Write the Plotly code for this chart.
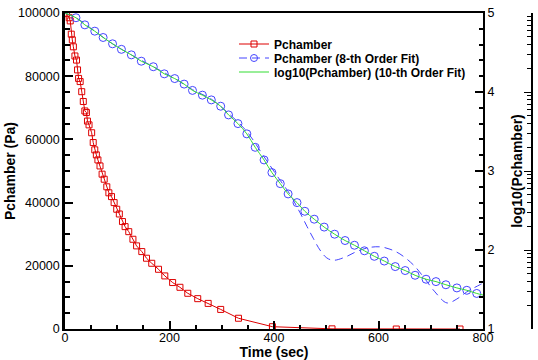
import plotly.graph_objects as go

# ---- data ----
p_time = [3, 8, 10, 12, 14, 16, 19, 22, 24, 26, 29, 32, 35, 38, 41, 43, 46, 51, 54, 57,
          60, 63, 67, 71, 75, 80, 84, 89, 94, 99, 104, 110, 115, 122, 130, 137, 147, 156,
          166, 179, 191, 206, 220, 235, 254, 274, 298, 332, 397, 511, 634, 756]
p_chamber = [99800, 98500, 97500, 93300, 91500, 89300, 86400, 85100, 82000, 79300, 78300,
             75100, 72000, 69000, 68500, 65800, 64600, 62100, 59000, 56700, 55100, 53500,
             51600, 49000, 47400, 45000, 43100, 41900, 40000, 37900, 36400, 34000, 32400,
             30800, 28400, 26300, 24500, 22400, 20800, 18900, 16800, 14700, 13200, 11300,
             9600, 8100, 6200, 3400, 730, 50, 0, 0]

circ_time = [21, 38, 57, 73, 91, 108, 127, 146, 169, 190, 210, 228, 244, 263, 280, 298,
             313, 331, 348, 364, 381, 396, 412, 427, 444, 459, 477, 496, 516, 536, 554,
             573, 592, 611, 632, 651, 670, 691, 710, 729, 750, 769, 788]
circ_log = [4.94, 4.85, 4.77, 4.69, 4.61, 4.54, 4.47, 4.39, 4.32, 4.23, 4.17, 4.10, 4.02,
            3.96, 3.90, 3.82, 3.71, 3.60, 3.47, 3.30, 3.14, 2.98, 2.84, 2.71, 2.60, 2.49,
            2.39, 2.29, 2.20, 2.12, 2.06, 1.99, 1.92, 1.86, 1.79, 1.74, 1.68, 1.63, 1.60,
            1.56, 1.52, 1.49, 1.45]

fit10_time = [0] + circ_time + [800]
fit10_log = [5.0] + circ_log + [1.43]

fit8_time = [0, 21, 57, 91, 127, 169, 210, 244, 280, 313, 348, 381, 412, 431, 450, 463,
             475, 488, 501, 514, 536, 558, 581, 603, 622, 641, 667, 686, 708, 731, 750,
             769, 794, 800]
fit8_log = [5.0, 4.94, 4.77, 4.61, 4.47, 4.32, 4.17, 4.03, 3.91, 3.73, 3.50, 3.18, 2.88,
            2.70, 2.47, 2.30, 2.15, 2.00, 1.90, 1.87, 1.91, 1.98, 2.03, 2.04, 2.01, 1.95,
            1.81, 1.66, 1.47, 1.33, 1.38, 1.47, 1.56, 1.58]

x_ticks = [0, 200, 400, 600, 800]
y_ticks = [0, 20000, 40000, 60000, 80000, 100000]
y2_ticks = [1, 2, 3, 4, 5]

RED = "#dd0000"
BLUE = "#4444ff"
GREEN = "#33dd33"
FONT = "Liberation Sans, Arial, sans-serif"

fig = go.Figure()
fig.add_trace(go.Scatter(x=p_time, y=p_chamber, mode="lines+markers", name="Pchamber",
                         legend="legend",
                         line=dict(color=RED, width=1),
                         marker=dict(symbol="square-open", size=6, color=RED, line=dict(width=1))))
fig.add_trace(go.Scatter(x=fit8_time, y=fit8_log, mode="lines", yaxis="y2", showlegend=False,
                         line=dict(color=BLUE, width=1, dash="8px,5px", shape="spline")))
fig.add_trace(go.Scatter(x=circ_time, y=circ_log, mode="markers", yaxis="y2", showlegend=False,
                         marker=dict(symbol="circle-open", size=8, color=BLUE, line=dict(width=1))))
fig.add_trace(go.Scatter(x=[None], y=[None], mode="lines+markers", yaxis="y2",
                         name="Pchamber (8-th Order Fit)", legend="legend2",
                         line=dict(color=BLUE, width=1, dash="8px,5px"),
                         marker=dict(symbol="circle-open", size=7, color=BLUE, line=dict(width=1))))
fig.add_trace(go.Scatter(x=fit10_time, y=fit10_log, mode="lines", yaxis="y2",
                         name="log10(Pchamber) (10-th Order Fit)", legend="legend3",
                         line=dict(color=GREEN, width=1, shape="spline")))
# empty trace so the outer (decade) axis is drawn
fig.add_trace(go.Scatter(x=[None], y=[None], yaxis="y3", showlegend=False, hoverinfo="skip"))

W, H = 538, 360
L, R, T, B = 65, 3, 13, 31
pw = W - L - R
ph = H - T - B
xdom_end = 418 / pw
y3_pos = (532 - L) / pw


def leg(row_y):
    return dict(x=(234 - L) / pw, y=1 - (row_y - T) / ph, xanchor="left", yanchor="middle",
                bgcolor="rgba(0,0,0,0)", borderwidth=0, itemwidth=30,
                font=dict(family=FONT, size=12, color="black", weight="bold"))


fig.update_layout(
    width=W, height=H,
    margin=dict(l=L, r=R, t=T, b=B, pad=0),
    paper_bgcolor="white", plot_bgcolor="white",
    font=dict(family=FONT, size=12, color="black"),
    showlegend=True,
    legend=leg(44), legend2=leg(58), legend3=leg(72),
    xaxis=dict(domain=[0, xdom_end], range=[0, 800], tickvals=x_ticks,
               showgrid=False, zeroline=False, showline=True, linecolor="black", linewidth=2,
               mirror=True, ticks="inside", ticklen=8, tickwidth=1.5, tickcolor="black",
               minor=dict(dtick=50, tick0=0, ticks="inside", ticklen=4, tickcolor="black",
                          showgrid=False),
               tickfont=dict(size=12.5), ticklabelstandoff=-4, ticklabeloverflow="allow",
               title=dict(text="<b>Time (sec)</b>", font=dict(size=14), standoff=0),
               automargin=False),
    yaxis=dict(range=[0, 100000], tickvals=y_ticks, tickformat="d", showgrid=False,
               zeroline=False, showline=True, linecolor="black", linewidth=2.5,
               ticks="inside", ticklen=8, tickwidth=1.5, tickcolor="black",
               minor=dict(dtick=5000, tick0=0, ticks="inside", ticklen=5, tickcolor="black",
                          showgrid=False),
               tickfont=dict(size=12.5), ticklabeloverflow="allow",
               title=dict(text="<b>Pchamber (Pa)</b>", font=dict(size=14), standoff=0),
               automargin=False),
    yaxis2=dict(range=[1, 5], tickvals=y2_ticks, overlaying="y", side="right", anchor="x",
                showgrid=False, zeroline=False, showline=True, linecolor="black", linewidth=2,
                ticks="inside", ticklen=8, tickwidth=1.5, tickcolor="black",
                minor=dict(dtick=0.2, tick0=1, ticks="inside", ticklen=4, tickcolor="black",
                           showgrid=False),
                tickfont=dict(size=12.5), ticklabeloverflow="allow",
                title=dict(text="<b>log10(Pchamber)</b>", font=dict(size=14), standoff=19),
                automargin=False),
    yaxis3=dict(type="log", range=[1, 5], overlaying="y", side="right", anchor="free",
                position=y3_pos, showgrid=False, zeroline=False, showline=True,
                linecolor="black", linewidth=2, ticks="inside", ticklen=7, tickwidth=1.2,
                tickcolor="black", dtick=1, showticklabels=False, automargin=False,
                minor=dict(ticks="inside", ticklen=4, dtick="D1", tickcolor="black",
                           tickwidth=1, showgrid=False)),
    shapes=[dict(type="line", xref="paper", yref="paper", x0=y3_pos, x1=y3_pos, y0=0, y1=1,
                 line=dict(color="black", width=2), layer="above")],
)

fig.write_html(
    "out.html",
    config={"displayModeBar": False},
    post_script="document.body.style.margin='0px';document.body.style.overflow='hidden';",
)
